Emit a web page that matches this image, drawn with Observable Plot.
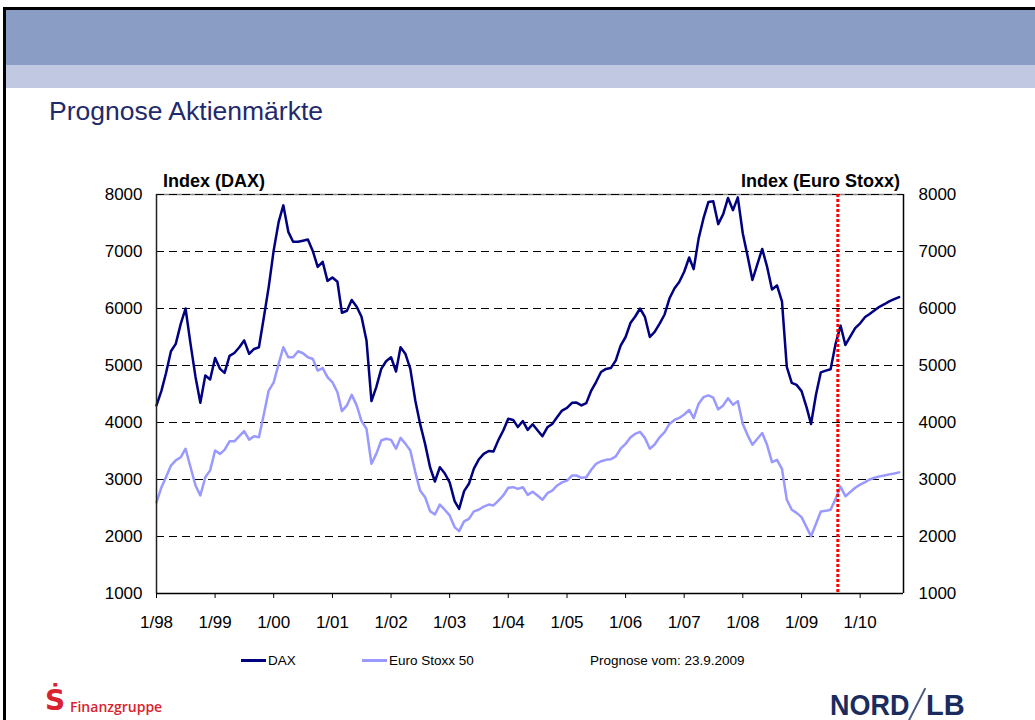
<!DOCTYPE html>
<html><head><meta charset="utf-8">
<script src="https://cdn.jsdelivr.net/npm/d3@7"></script>
<script src="https://cdn.jsdelivr.net/npm/@observablehq/plot@0.6"></script>
<style>
body{margin:0;background:#fff;}
#page{position:relative;width:1035px;height:720px;overflow:hidden;background:#fff;font-family:"Liberation Sans",Arial,sans-serif;color:#000;}
.abs{position:absolute;white-space:nowrap;}
.sw{display:inline-block;width:25px;height:3px;vertical-align:middle;margin-right:2px;position:relative;top:-1px;}
</style></head><body>
<div id="page">
  <div class="abs" style="left:3px;top:7px;width:1032px;height:3px;background:#000"></div>
  <div class="abs" style="left:3px;top:7px;width:3px;height:713px;background:#000"></div>
  <div class="abs" style="left:6px;top:10px;right:0;height:55px;background:#8a9dc4"></div>
  <div class="abs" style="left:6px;top:65px;right:0;height:23px;background:#c0c9e1"></div>
  <div class="abs" style="left:49px;top:96px;font-size:26.5px;line-height:30px;color:#1f2a6b">Prognose Aktienmärkte</div>
  <div id="chart" class="abs" style="left:0;top:160px"></div>
  <div class="abs" style="left:163px;top:171px;font-weight:bold;font-size:18px;line-height:20px">Index (DAX)</div>
  <div class="abs" style="right:135px;top:171px;font-weight:bold;font-size:18px;line-height:20px">Index (Euro Stoxx)</div>
  <div class="abs" style="left:241px;top:652px;font-size:13.5px;line-height:17px"><span class="sw" style="background:#000080"></span>DAX</div>
  <div class="abs" style="left:362px;top:652px;font-size:13.5px;line-height:17px"><span class="sw" style="background:#9999ff"></span>Euro Stoxx 50</div>
  <div class="abs" style="left:590px;top:652px;font-size:13.5px;line-height:17px">Prognose vom: 23.9.2009</div>
  <div class="abs" style="left:45px;top:684px;font-family:'DejaVu Sans',sans-serif;font-weight:bold;font-size:28px;line-height:34px;color:#d9232e">Ṡ</div>
  <div class="abs" style="left:70px;top:697px;font-family:'Open Sans',sans-serif;font-weight:600;font-size:14px;line-height:20px;color:#d9232e">Finanzgruppe</div>
  <div class="abs" style="left:830px;top:688px;height:32px;width:140px">
    <div class="abs" style="left:0;top:0;font-weight:bold;font-size:29px;line-height:34px;color:#1a2b5e;transform:scaleX(0.93);transform-origin:0 0">NORD</div>
    <div class="abs" style="left:86px;top:-2px;width:1.5px;height:37px;background:#4a5a80;transform:rotate(27deg);transform-origin:50% 50%"></div>
    <div class="abs" style="left:96px;top:0;font-weight:bold;font-size:29px;line-height:34px;color:#1a2b5e;transform:scaleX(1.0);transform-origin:0 0">LB</div>
  </div>
</div>
<script>
const startYear = 1998;
const dax = [4300,4560,4865,5250,5380,5730,6000,5380,4800,4345,4825,4755,
  5130,4940,4870,5170,5220,5320,5440,5205,5290,5320,5850,6380,
  7020,7520,7810,7345,7170,7170,7190,7210,7005,6730,6820,6485,
  6545,6470,5925,5960,6150,6030,5855,5440,4375,4620,4940,5075,
  5145,4895,5320,5200,4940,4385,3975,3625,3215,2965,3215,3110,
  2950,2620,2485,2795,2925,3190,3350,3450,3500,3490,3695,3860,
  4065,4045,3920,4025,3870,3970,3865,3760,3915,3975,4095,4210,
  4255,4345,4350,4300,4340,4560,4710,4885,4940,4955,5090,5350,
  5500,5750,5855,6000,5855,5500,5590,5735,5895,6175,6350,6465,
  6645,6895,6690,7230,7580,7870,7880,7480,7655,7940,7725,7950,
  7315,6905,6500,6780,7045,6725,6335,6405,6125,4975,4695,4660,
  4550,4270,3975,4490,4880,4910,4935,5380,5700,5360,5510,5655,
  5740,5850,5905,5970,6030,6075,6125,6165,6200];
const stoxx = [2600,2865,3040,3245,3335,3390,3540,3215,2895,2720,3040,3160,
  3510,3450,3520,3670,3670,3760,3850,3700,3760,3740,4150,4560,
  4705,5030,5320,5145,5145,5250,5215,5145,5115,4910,4955,4795,
  4705,4530,4200,4300,4485,4300,4025,3890,3275,3450,3685,3715,
  3695,3540,3730,3625,3510,3130,2805,2690,2445,2385,2560,2470,
  2370,2165,2095,2265,2310,2440,2470,2525,2560,2545,2630,2720,
  2855,2865,2835,2865,2730,2785,2720,2645,2760,2805,2895,2950,
  2980,3070,3070,3030,3040,3170,3275,3320,3345,3355,3405,3540,
  3625,3740,3800,3835,3730,3540,3615,3740,3830,3975,4045,4080,
  4140,4220,4075,4330,4445,4475,4435,4230,4300,4425,4310,4375,
  3975,3770,3610,3715,3815,3600,3305,3345,3185,2645,2470,2415,
  2340,2165,2005,2225,2440,2450,2470,2660,2875,2705,2780,2855,
  2910,2955,3000,3030,3055,3070,3090,3105,3125];
const yTicks = [1000,2000,3000,4000,5000,6000,7000,8000];
const xTickLabels = ["1/98","1/99","1/00","1/01","1/02","1/03","1/04","1/05","1/06","1/07","1/08","1/09","1/10"];
const xDomain = [new Date(Date.UTC(1998,0,1)), new Date(Date.UTC(2010,8,28))];
const forecastDate = new Date(Date.UTC(2009,7,15));

const monthDate = i => new Date(Date.UTC(startYear, i, 1));
const rows = vals => vals.map((v,i) => ({date: monthDate(i), value: v}));
const xTicks = xTickLabels.map((_, i) => new Date(Date.UTC(startYear + i, 0, 1)));
const font = "'Liberation Sans', Arial, sans-serif";

const chart = Plot.plot({
  width: 1035, height: 480,
  marginLeft: 156, marginRight: 132, marginTop: 34, marginBottom: 47,
  style: {fontFamily: font, background: "transparent", overflow: "visible", color: "#000"},
  x: {type: "utc", domain: xDomain},
  y: {domain: [1000, 8000]},
  marks: [
    Plot.ruleY([8000], {stroke: "#888", strokeWidth: 1.5}),
    Plot.ruleY(yTicks.filter(v => v > 1000), {stroke: "#000", strokeWidth: 1, strokeDasharray: "8,5"}),
    Plot.line(rows(stoxx), {x: "date", y: "value", stroke: "#9999ff", strokeWidth: 2.5}),
    Plot.line(rows(dax), {x: "date", y: "value", stroke: "#000080", strokeWidth: 2.5}),
    Plot.ruleX([xDomain[0]], {stroke: "#222", strokeWidth: 1.5}),
    Plot.ruleX([xDomain[1]], {stroke: "#000", strokeWidth: 1.5}),
    Plot.ruleY([1000], {stroke: "#000", strokeWidth: 1.5}),
    Plot.ruleX([forecastDate], {stroke: "#ff0000", strokeWidth: 3, strokeDasharray: "3,2"}),
    Plot.axisY({anchor: "left", ticks: yTicks, tickSize: 0, tickPadding: 14, fontSize: 17, label: null, tickFormat: d => String(d)}),
    Plot.axisY({anchor: "right", ticks: yTicks, tickSize: 0, tickPadding: 15, fontSize: 17, label: null, tickFormat: d => String(d)}),
    Plot.axisX({ticks: xTicks, tickSize: 5, tickPadding: 17, fontSize: 17, label: null, stroke: "#000",
      tickFormat: d => xTickLabels[d.getUTCFullYear() - startYear]})
  ]
});
document.getElementById("chart").appendChild(chart);
</script>
</body></html>
